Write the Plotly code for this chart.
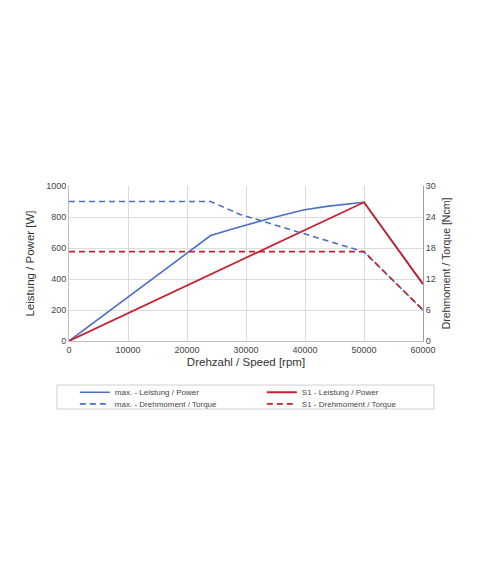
import plotly.graph_objects as go

# speed in rpm, power in W, torque in Ncm
speed_max_power = [0, 24000, 29000, 34000, 39700, 44000, 50000, 60000]
max_power = [0, 680, 737, 790, 845, 870, 895, 367]

speed_s1_power = [0, 50000, 60000]
s1_power = [0, 895, 367]

speed_max_torque = [0, 24000, 29000, 38800, 50000, 60000]
max_torque = [27, 27, 24.5, 21.1, 17.25, 6]

speed_s1_torque = [0, 50000, 60000]
s1_torque = [17.3, 17.3, 6]

blue = "#4a6fc6"
red = "#c8202e"
font = "Liberation Sans, Arial, sans-serif"

fig = go.Figure()
# row 1 of the legend -> "legend", row 2 -> "legend2"
fig.add_trace(go.Scatter(x=speed_max_power, y=max_power, mode="lines",
                         name="max. - Leistung / Power", legend="legend",
                         line=dict(color=blue, width=1.6)))
fig.add_trace(go.Scatter(x=speed_s1_power, y=s1_power, mode="lines",
                         name="S1 - Leistung / Power", legend="legend",
                         line=dict(color=red, width=1.8)))
fig.add_trace(go.Scatter(x=speed_max_torque, y=max_torque, mode="lines",
                         name="max. - Drehmoment / Torque", yaxis="y2", legend="legend2",
                         line=dict(color=blue, width=1.6, dash="6px,4px")))
fig.add_trace(go.Scatter(x=speed_s1_torque, y=s1_torque, mode="lines",
                         name="S1 - Drehmoment / Torque", yaxis="y2", legend="legend2",
                         line=dict(color=red, width=1.6, dash="6px,4px")))

# box around the legend
fig.add_shape(type="rect", xref="paper", yref="paper",
              x0=-0.034, x1=1.031, y0=-0.439, y1=-0.284,
              line=dict(color="#d0d0d0", width=1), fillcolor="white", layer="below")

leg = dict(orientation="h", x=1.073, xanchor="right", yanchor="top",
           entrywidth=142, entrywidthmode="pixels", itemwidth=30,
           font=dict(size=8, color="#444"), bgcolor="rgba(0,0,0,0)")

fig.update_layout(
    width=480, height=569,
    margin=dict(l=61, r=65, t=178, b=236),
    paper_bgcolor="white", plot_bgcolor="white",
    font=dict(family=font, size=9, color="#444"),
    showlegend=True,
    legend=dict(leg, y=-0.237),
    legend2=dict(leg, y=-0.312),
    xaxis=dict(range=[0, 60000], dtick=10000, tickformat="d",
               showgrid=True, gridcolor="#dcdcdc", zeroline=False,
               showline=True, linecolor="#c0c0c0", ticks="",
               title=dict(text="Drehzahl / Speed [rpm]", standoff=4,
                          font=dict(size=11.5, color="#333"))),
    yaxis=dict(range=[0, 1000], dtick=200, showgrid=True, gridcolor="#dcdcdc",
               zeroline=False, showline=True, linecolor="#c0c0c0", ticks="",
               title=dict(text="Leistung / Power [W]", standoff=9,
                          font=dict(size=11.5, color="#333"))),
    yaxis2=dict(range=[0, 30], dtick=6, overlaying="y", side="right",
                showgrid=False, zeroline=False, showline=True, linecolor="#a0a0a0",
                ticks="",
                title=dict(text="Drehmoment / Torque [Ncm]", standoff=7,
                           font=dict(size=10.5, color="#333"))),
)

fig.write_html("out.html")
